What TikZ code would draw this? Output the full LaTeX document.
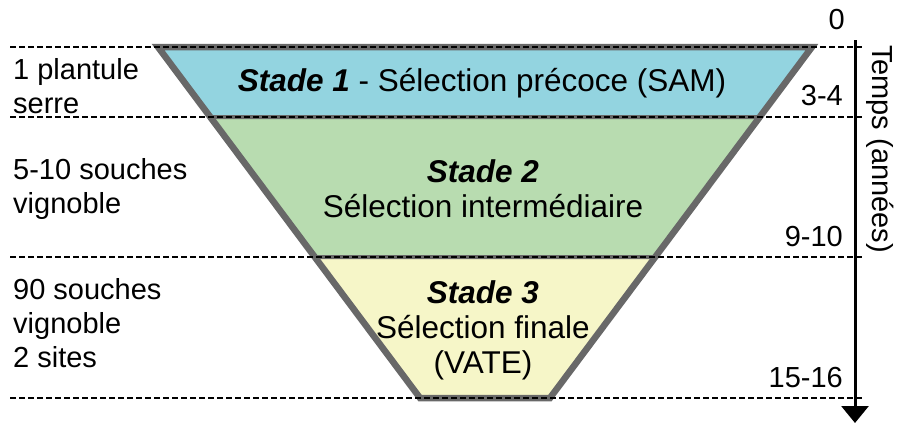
\documentclass[tikz,border=0pt]{standalone}
\usepackage{fontspec}
\setmainfont{Liberation Sans}
\usetikzlibrary{positioning,arrows.meta}

\definecolor{samblue}{HTML}{93D4E0}
\definecolor{midgreen}{HTML}{B8DCB0}
\definecolor{finyellow}{HTML}{F6F6C8}
\definecolor{edgegray}{HTML}{686868}

\tikzset{
  band/.style={draw=edgegray, line width=4pt, line join=miter},
  guide/.style={black, line width=1.4pt, dash pattern=on 6pt off 3pt},
  label/.style={font=\fontsize{29}{34}\selectfont, align=left, inner sep=0pt, anchor=west},
  stage/.style={font=\fontsize{31.5}{35}\selectfont, align=center, inner sep=0pt},
  year/.style={font=\fontsize{29}{34}\selectfont, anchor=east, inner sep=0pt},
}

\begin{document}
\begin{tikzpicture}[x=1pt, y=-1pt]
    \useasboundingbox (0,0) rectangle (898,423);
    % funnel corners
    \coordinate (TL) at (158,47);
    \coordinate (TR) at (812,47);
    \coordinate (ML1) at (210.3,117);
    \coordinate (MR1) at (759.7,117);
    \coordinate (ML2) at (314.8,257);
    \coordinate (MR2) at (655.2,257);
    \coordinate (BL) at (420,398);
    \coordinate (BR) at (550,398);

    \filldraw[band, fill=samblue] (TL) -- (TR) -- (MR1) -- (ML1) -- cycle;
    \filldraw[band, fill=midgreen] (ML1) -- (MR1) -- (MR2) -- (ML2) -- cycle;
    \filldraw[band, fill=finyellow] (ML2) -- (MR2) -- (BR) -- (BL) -- cycle;
    \draw[draw=edgegray, line width=6.5pt, line join=miter] (TL) -- (TR) -- (BR) -- (BL) -- cycle;

    % time levels
    \foreach \lvl/\y in {a/47, b/117, c/257, d/398} {
        \coordinate (g\lvl) at (10,\y);
        \coordinate (h\lvl) at (862,\y);
        \draw[guide] (g\lvl) -- (h\lvl);
    }

    \node[stage] (S1) at (482,83) {\textbf{\textit{Stade 1}} - Sélection précoce (SAM)};
    \node[stage] (S2) at (483,189) {\textbf{\textit{Stade 2}}\\Sélection intermédiaire};
    \node[stage] (S3) at (483,330) {\textbf{\textit{Stade 3}}\\Sélection finale\\(VATE)};

    \node[label] (L1) at (13,86) {1 plantule\\serre};
    \node[label] (L2) at (13,189) {5-10 souches\\vignoble};
    \node[label] (L3) at (13,323) {90 souches\\vignoble\\2 sites};

    \node[year] (Y0) at (845,20) {0};
    \node[year] (Y1) at (843,96) {3-4};
    \node[year] (Y2) at (843,237) {9-10};
    \node[year] (Y3) at (843,378) {15-16};

    \coordinate (t0) at (855,40);
    \coordinate (t1) at (855,423);
    \draw[line width=3pt, -{Triangle[width=27pt,length=17pt]}] (t0) -- (t1);
    \node[font=\fontsize{29}{34}\selectfont, rotate=-90, inner sep=0pt] (T) at (880,149) {Temps (années)};
\end{tikzpicture}
\end{document}
